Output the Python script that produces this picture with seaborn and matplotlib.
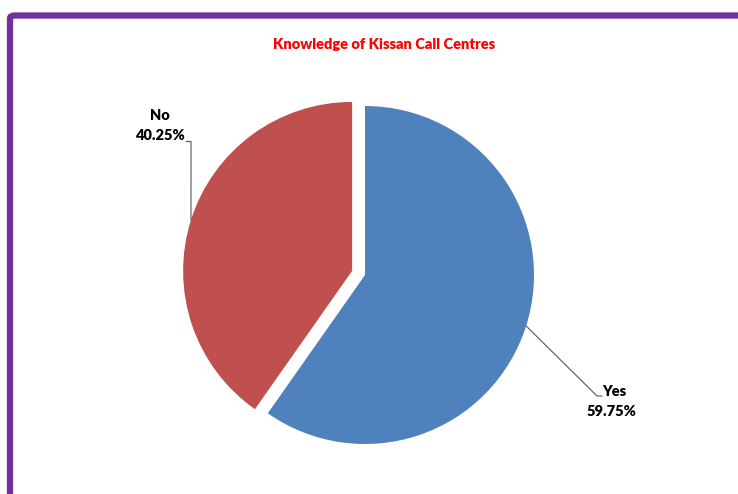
import numpy as np
import matplotlib
matplotlib.use("Agg")
import matplotlib.pyplot as plt
import seaborn as sns
from matplotlib.patches import FancyBboxPatch

# ---- data ----
categories = ["Yes", "No"]
values = [59.75, 40.25]
pct_labels = ["59.75%", "40.25%"]
colors = ["#4F81BD", "#C0504D"]
title = "Knowledge of Kissan Call Centres"

sns.set_theme(style="white")
plt.rcParams['font.family'] = ['Lato', 'DejaVu Sans']

W, H = 738, 494
fig = plt.figure(figsize=(W / 100, H / 100), dpi=100)
fig.patch.set_facecolor("white")

ax = fig.add_axes([0, 0, 1, 1])
cx, cy, R = 365, H - 275, 169
explode = [0, 0.08 * R]
wedges, _ = ax.pie(values, colors=colors, startangle=90, counterclock=False,
                   explode=explode, center=(cx, cy), radius=R,
                   wedgeprops=dict(linewidth=0))
ax.set_xlim(0, W)
ax.set_ylim(0, H)
ax.set_aspect('equal')
ax.axis('off')

fs = 10.5
fw = 'heavy'
# leader lines from wedge mid-angles
for i, w in enumerate(wedges):
    mid = np.deg2rad((w.theta1 + w.theta2) / 2)
    ox, oy = w.center
    sx, sy = ox + R * np.cos(mid), oy + R * np.sin(mid)
    if categories[i] == "Yes":
        ex, ey = 597, H - 396
        ax.plot([sx, ex, ex + 5], [sy, ey, ey], color="#555555", lw=0.8)
        ax.text(ex + 5, H - 392, categories[i], ha='left', va='center',
                fontsize=fs, fontweight=fw, color='black')
        ax.text(612, H - 411, pct_labels[i], ha='center', va='center',
                fontsize=fs, fontweight=fw, color='black')
    else:
        ex, ey = 191, H - 141.5
        ax.plot([sx, ex, ex - 5], [sy, ey, ey], color="#555555", lw=0.8)
        ax.text(160, H - 115, categories[i], ha='center', va='center',
                fontsize=fs, fontweight=fw, color='black')
        ax.text(160, H - 136, pct_labels[i], ha='center', va='center',
                fontsize=fs, fontweight=fw, color='black')

ax.text(384, H - 45, title, ha='center', va='center', fontsize=10.5,
        fontweight=fw, color='#FF0000')

# purple frame (top and left visible)
frame = FancyBboxPatch((10 / W, -0.2), 1.2, (H - 15.5) / H + 0.2,
                       boxstyle="round,pad=0,rounding_size=0.006",
                       transform=fig.transFigure, fill=False,
                       edgecolor="#7030A0", linewidth=4.5, zorder=10)
fig.add_artist(frame)

fig.savefig("out.png", dpi=100, facecolor="white")
